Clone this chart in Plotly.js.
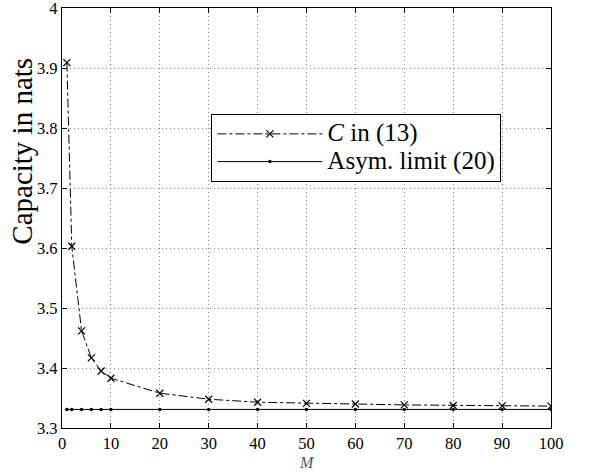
<!DOCTYPE html>
<html><head><meta charset="utf-8">
<script src="https://cdn.plot.ly/plotly-3.0.1.min.js"></script>
<style>body{margin:0;background:#fff}#c{width:612px;height:472px}</style>
</head><body><div id="c"></div>
<script>
const M = [1, 2, 4, 6, 8, 10, 20, 30, 40, 50, 60, 70, 80, 90, 100];
const capacity = [3.909, 3.603, 3.462, 3.417, 3.395, 3.383, 3.358, 3.348, 3.343, 3.341, 3.340, 3.3385, 3.3375, 3.337, 3.3365];
const asymLimit = [3.331, 3.331, 3.331, 3.331, 3.331, 3.331, 3.331, 3.331, 3.331, 3.331, 3.331, 3.331, 3.331, 3.331, 3.331];
const xTicks = [0, 10, 20, 30, 40, 50, 60, 70, 80, 90, 100];
const yTicks = [3.3, 3.4, 3.5, 3.6, 3.7, 3.8, 3.9, 4];
const yTickLabels = ['3.3', '3.4', '3.5', '3.6', '3.7', '3.8', '3.9', '4'];
const seriesNames = ['<i>C</i> in (13)', 'Asym. limit (20)'];

const font = 'Liberation Serif, serif';
const big = s => '<span style="font-size:25px">' + s + '</span>';
const traces = [
  {x: M, y: capacity, mode: 'lines+markers', name: big(seriesNames[0]),
   line: {color: '#000', width: 1, dash: 'dashdot'},
   marker: {symbol: 'x-thin-open', size: 7, color: '#000', line: {color: '#000', width: 1.2}}},
  {x: M, y: asymLimit, mode: 'lines+markers', name: big(seriesNames[1]),
   line: {color: '#000', width: 1},
   marker: {symbol: 'circle', size: 3.5, color: '#000'}}
];
const axisCommon = {
  showline: true, mirror: 'ticks', linecolor: '#000', linewidth: 1.2,
  ticks: 'inside', ticklen: 5, tickcolor: '#000',
  showgrid: true, gridcolor: '#888', griddash: '1px,3px', gridwidth: 1,
  zeroline: false, ticklabeloverflow: 'allow',
  tickfont: {family: font, size: 16.5, color: '#000'}
};
const layout = {
  width: 612, height: 472,
  margin: {l: 62, r: 61, t: 8, b: 44},
  paper_bgcolor: '#fff', plot_bgcolor: '#fff',
  showlegend: true,
  font: {family: font},
  xaxis: Object.assign({}, axisCommon, {range: [0, 100], tickvals: xTicks}),
  yaxis: Object.assign({}, axisCommon, {range: [3.3, 4.0002], tickvals: yTicks, ticktext: yTickLabels}),
  annotations: [
    {text: 'Capacity in nats', xref: 'paper', yref: 'paper', x: -0.082, y: 0.66,
     xanchor: 'center', yanchor: 'middle', textangle: -90, showarrow: false,
     font: {family: font, size: 29, color: '#000'}},
    {text: '<i>M</i>', xref: 'paper', yref: 'paper', x: 0.5, y: -0.082,
     xanchor: 'center', yanchor: 'middle', showarrow: false,
     font: {family: font, size: 16, color: '#555'}}
  ],
  legend: {x: 0.305, y: 0.748, xanchor: 'left', yanchor: 'top',
    bgcolor: '#fff', bordercolor: '#000', borderwidth: 1.2,
    font: {family: font, size: 19, color: '#000'}, itemwidth: 105, tracegroupgap: 0}
};
Plotly.newPlot('c', traces, layout, {displayModeBar: false});
</script></body></html>
